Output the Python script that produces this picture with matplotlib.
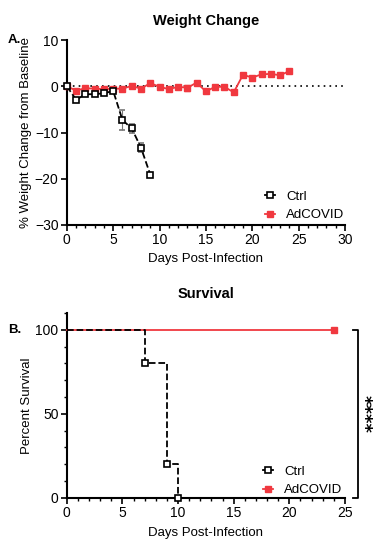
import matplotlib.pyplot as plt
import numpy as np
from matplotlib import rcParams
from matplotlib.lines import Line2D
import matplotlib.ticker as plticker

rcParams['font.family'] = ['Liberation Sans', 'DejaVu Sans']
rcParams['font.size'] = 9.5

RED = '#f0383f'

# weight change (%), per day
ad_days = list(range(0, 25))
ad_weight = [0, -0.9, -0.4, -0.5, -0.6, -0.5, -0.5, 0.1, -0.5, 0.7, -0.1, -0.6, -0.1,
             -0.3, 0.8, -1.1, -0.1, -0.1, -1.3, 2.5, 1.9, 2.6, 2.7, 2.4, 3.3]
ad_err = [0, 0.2, 0.2, 0.2, 0.2, 0.2, 0.2, 0.2, 0.2, 0.3, 0.2, 0.2, 0.2,
          0.6, 0.2, 0.3, 0.2, 0.2, 0.3, 0.2, 0.2, 0.2, 0.2, 0.2, 0.2]
ctrl_days = list(range(0, 10))
ctrl_weight = [0, -2.9, -1.7, -1.7, -1.5, -1.0, -7.3, -9.1, -13.3, -19.1]
ctrl_err = [0, 0.4, 0.3, 0.3, 0.3, 0.3, 2.2, 1.0, 1.0, 0]

# survival (%)
ctrl_surv_days = [0, 7, 9, 10]
ctrl_surv = [100, 80, 20, 0]
ad_surv_days = [0, 24]
ad_surv = [100, 100]

fig = plt.figure(figsize=(3.82, 5.5), dpi=100)

def style_axis(ax):
    for s in ['top', 'right']:
        ax.spines[s].set_visible(False)
    for s in ['left', 'bottom']:
        ax.spines[s].set_linewidth(1.5)
    ax.tick_params(which='major', width=1.2, length=4, labelsize=10, pad=2)
    ax.tick_params(which='minor', width=1.0, length=2.5)

def add_legend(ax, anchor):
    handles = [Line2D([], [], color='black', lw=1.3, marker='s', ms=4.5,
                      mfc='white', mec='black', mew=1.2),
               Line2D([], [], color=RED, lw=1.3, marker='s', ms=4.5,
                      mfc=RED, mec=RED)]
    ax.legend(handles, ['Ctrl', 'AdCOVID'], loc='upper left', bbox_to_anchor=anchor,
              frameon=False, fontsize=9.5, handlelength=0.8, handletextpad=0.8,
              borderpad=0, borderaxespad=0, labelspacing=0.45)

# --- A. weight change
ax1 = fig.add_axes([0.175, 0.591, 0.728, 0.336])
ax1.axhline(0, color='black', ls=(0, (1, 2.5)), lw=1.2, zorder=1)
ax1.errorbar(ctrl_days, ctrl_weight, yerr=ctrl_err, color='black', ls='--', lw=1.3,
             marker='s', ms=4.5, mfc='white', mec='black', mew=1.2,
             ecolor='#777777', elinewidth=0.8, capsize=2, zorder=4, clip_on=False)
ax1.errorbar(ad_days, ad_weight, yerr=ad_err, color=RED, ls='-', lw=1.3,
             marker='s', ms=4.5, mfc=RED, mec=RED,
             ecolor='#f08a8e', elinewidth=0.8, capsize=2, zorder=3, clip_on=False)
ax1.set_xlim(0, 30)
ax1.set_ylim(-30, 10)
ax1.xaxis.set_major_locator(plticker.MultipleLocator(5))
ax1.xaxis.set_minor_locator(plticker.MultipleLocator(1))
ax1.yaxis.set_major_locator(plticker.MultipleLocator(10))
style_axis(ax1)
ax1.set_xlabel('Days Post-Infection', fontsize=9.5, labelpad=4)
ax1.set_ylabel('% Weight Change from Baseline', fontsize=9.5, labelpad=2)
ax1.set_title('Weight Change', fontsize=10.5, fontweight='bold', pad=11)
add_legend(ax1, (0.712, 0.185))
fig.text(0.02, 0.927, 'A.', fontsize=9.5, fontweight='bold', va='center')

# --- B. survival
ax2 = fig.add_axes([0.175, 0.095, 0.728, 0.336])
ax2.step(ad_surv_days, ad_surv, where='post', color=RED, lw=1.3, zorder=3, clip_on=False)
ax2.plot(ad_surv_days[-1:], ad_surv[-1:], 's', color=RED, ms=4.5, zorder=4, clip_on=False)
ax2.step(ctrl_surv_days, ctrl_surv, where='post', color='black', ls='--', lw=1.3,
         zorder=4, clip_on=False)
ax2.plot(ctrl_surv_days[1:], ctrl_surv[1:], 's', ms=4.5, mfc='white', mec='black',
         mew=1.2, zorder=5, clip_on=False)
ax2.set_xlim(0, 25)
ax2.set_ylim(0, 110)
ax2.set_yticks([0, 50, 100])
ax2.yaxis.set_minor_locator(plticker.MultipleLocator(10))
ax2.xaxis.set_major_locator(plticker.MultipleLocator(5))
ax2.xaxis.set_minor_locator(plticker.MultipleLocator(1))
style_axis(ax2)
ax2.set_xlabel('Days Post-Infection', fontsize=9.5, labelpad=5)
ax2.set_ylabel('Percent Survival', fontsize=9.5, labelpad=2)
ax2.set_title('Survival', fontsize=10.5, fontweight='bold', pad=11)
add_legend(ax2, (0.705, 0.173))
fig.text(0.02, 0.40, 'B.', fontsize=9.5, fontweight='bold', va='center')

# significance bracket
bx = 26.2
ax2.plot([bx - 0.45, bx, bx, bx - 0.45], [100, 100, 0, 0], color='black', lw=1.3,
         clip_on=False)
ax2.text(bx + 0.5, 50, '****', rotation=-90, fontsize=13, fontweight='bold',
         family='DejaVu Sans', ha='center', va='center', clip_on=False)

fig.savefig('out.png', dpi=100)
